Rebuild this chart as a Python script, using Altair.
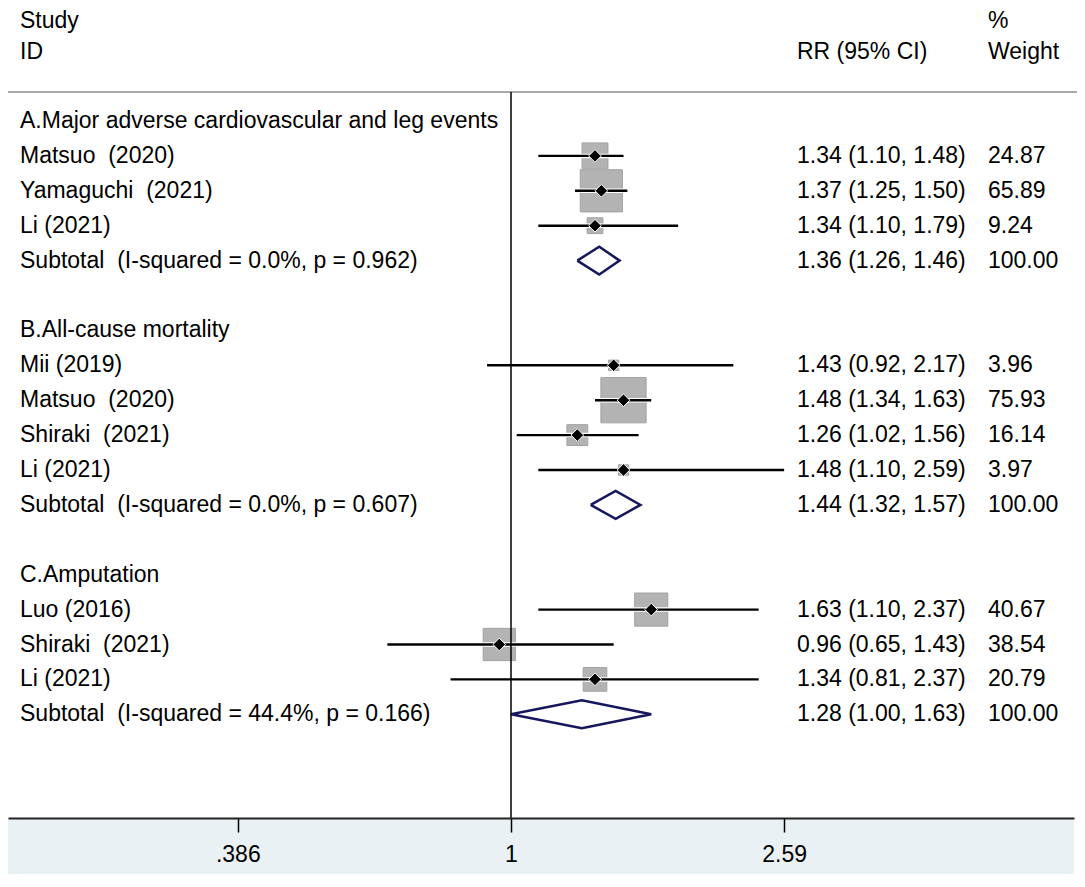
import math
import altair as alt
import pandas as pd

# ---------------- data ----------------
group_titles = [
    "A.Major adverse cardiovascular and leg events",
    "B.All-cause mortality",
    "C.Amputation",
]
study_names = [
    ["Matsuo\u00a0 (2020)", "Yamaguchi\u00a0 (2021)", "Li (2021)"],
    ["Mii (2019)", "Matsuo\u00a0 (2020)", "Shiraki\u00a0 (2021)", "Li (2021)"],
    ["Luo (2016)", "Shiraki\u00a0 (2021)", "Li (2021)"],
]
study_rr = [[1.34, 1.37, 1.34], [1.43, 1.48, 1.26, 1.48], [1.63, 0.96, 1.34]]
study_lo = [[1.10, 1.25, 1.10], [0.92, 1.34, 1.02, 1.10], [1.10, 0.65, 0.81]]
study_hi = [[1.48, 1.50, 1.79], [2.17, 1.63, 1.56, 2.59], [2.37, 1.43, 2.37]]
study_weight = [[24.87, 65.89, 9.24], [3.96, 75.93, 16.14, 3.97], [40.67, 38.54, 20.79]]
subtotal_i2 = ["0.0%", "0.0%", "44.4%"]
subtotal_p = ["0.962", "0.607", "0.166"]
subtotal_rr = [1.36, 1.44, 1.28]
subtotal_lo = [1.26, 1.32, 1.00]
subtotal_hi = [1.46, 1.57, 1.63]
subtotal_weight = [100.00, 100.00, 100.00]
header_line1 = ["Study", "", "%"]
header_line2 = ["ID", "RR (95% CI)", "Weight"]
tick_values = [0.386, 1, 2.59]
tick_labels = [".386", "1", "2.59"]

# ---------------- build tables ----------------
text_rows, study_rows, diamond_rows = [], [], []
r = 0
for g, title in enumerate(group_titles):
    text_rows.append({"row": r, "label": title, "rr_text": "", "w_text": ""})
    r += 1
    for name, rr, lo, hi, w in zip(study_names[g], study_rr[g], study_lo[g], study_hi[g], study_weight[g]):
        text_rows.append({"row": r, "label": name,
                          "rr_text": f"{rr:.2f} ({lo:.2f}, {hi:.2f})", "w_text": f"{w:.2f}"})
        study_rows.append({"row": r, "rr": rr, "lo": lo, "hi": hi, "weight": w})
        r += 1
    text_rows.append({"row": r,
                      "label": f"Subtotal\u00a0 (I-squared = {subtotal_i2[g]}, p = {subtotal_p[g]})",
                      "rr_text": f"{subtotal_rr[g]:.2f} ({subtotal_lo[g]:.2f}, {subtotal_hi[g]:.2f})",
                      "w_text": f"{subtotal_weight[g]:.2f}"})
    half = 0.4
    verts = [(subtotal_lo[g], r), (subtotal_rr[g], r - half), (subtotal_hi[g], r),
             (subtotal_rr[g], r + half), (subtotal_lo[g], r)]
    for k, (vx, vy) in enumerate(verts):
        diamond_rows.append({"grp": g, "ord": k, "rr": vx, "row": vy})
    r += 2

text_df = pd.DataFrame(text_rows)
study_df = pd.DataFrame(study_rows)
diamond_df = pd.DataFrame(diamond_rows)
hdr1_df = pd.DataFrame({"row": [-3] * 3, "label": header_line1, "col": [0, 1, 2]})
hdr2_df = pd.DataFrame({"row": [-2] * 3, "label": header_line2, "col": [0, 1, 2]})

# ---------------- layout ----------------
PAD_TOP = 8
W, H = 1066, 802
X_ONE = 503          # plot-x of RR = 1
PX_LN = 287          # pixels per natural-log unit
ROW0, ROW_STEP = 105, 34.9
SEP_Y = 76           # plot-y of the header separator line
COL_X = [12, 789, 980]
x_dom = [math.exp(-X_ONE / PX_LN), math.exp((W - X_ONE) / PX_LN)]
y_dom = [-ROW0 / ROW_STEP, (H - ROW0) / ROW_STEP]
FONT = "Liberation Sans, Arial, Helvetica, sans-serif"
FS = 23

label_expr = " : ".join(
    f"abs(datum.value - {v}) < 1e-6 ? '{l}'" for v, l in zip(tick_values, tick_labels)
) + " : ''"

x_axis = alt.Axis(values=tick_values, labelExpr=label_expr, title=None, grid=False,
                  domainColor="#222222", domainWidth=2, tickColor="#000000", tickWidth=1.5,
                  tickSize=14, labelFontSize=FS, labelFont=FONT, labelColor="#000000",
                  labelPadding=11, labelFlush=False, labelOverlap=False, zindex=1)
x_scale = alt.Scale(type="log", domain=x_dom, nice=False)
y_scale = alt.Scale(domain=y_dom, nice=False, zero=False, reverse=True)
Y = alt.Y("row:Q", scale=y_scale, axis=None)

one = pd.DataFrame({"a": [0]})

band = alt.Chart(one).mark_rect(color="#e9f1f4").encode(
    x=alt.value(0), x2=alt.value(W), y=alt.value(H), y2=alt.value(H + 56))

top_line = alt.Chart(one).mark_rule(color="#a8a8a8", strokeWidth=2).encode(
    x=alt.value(0), x2=alt.value(W + 3), y=alt.value(SEP_Y))

squares = alt.Chart(study_df).mark_point(shape="square", filled=True, fill="#b3b3b3",
                                         stroke="#a3a3a3", strokeWidth=1, opacity=1).encode(
    x=alt.X("rr:Q", scale=x_scale, axis=x_axis), y=Y,
    size=alt.Size("weight:Q", scale=alt.Scale(domain=[0, 100], range=[0, 2700]), legend=None))

ci_halo = alt.Chart(study_df).mark_rule(color="white", strokeWidth=4.5).encode(
    x=alt.X("lo:Q", scale=x_scale, axis=x_axis), x2="hi:Q", y=Y)
ci = alt.Chart(study_df).mark_rule(color="black", strokeWidth=2.4).encode(
    x=alt.X("lo:Q", scale=x_scale, axis=x_axis), x2="hi:Q", y=Y)

points = alt.Chart(study_df).mark_point(shape="diamond", filled=True, fill="black",
                                        stroke="white", strokeWidth=1, size=160, opacity=1).encode(
    x=alt.X("rr:Q", scale=x_scale, axis=x_axis), y=Y)

diamonds = alt.Chart(diamond_df).mark_line(color="#16165c", strokeWidth=2.5,
                                           strokeJoin="miter").encode(
    x=alt.X("rr:Q", scale=x_scale, axis=x_axis), y=Y,
    detail="grp:N", order="ord:Q")

null_line = alt.Chart(one).mark_rule(color="black", strokeWidth=1.5).encode(
    x=alt.X("v:Q", scale=x_scale, axis=x_axis),
    y=alt.value(SEP_Y), y2=alt.value(H)).transform_calculate(v="1")

def txt(df, field, xpix, dy=0):
    return alt.Chart(df).mark_text(align="left", baseline="middle", font=FONT,
                                   fontSize=FS, color="black", dy=dy).encode(
        x=alt.value(xpix), y=Y, text=f"{field}:N")

layers = [band, top_line, squares, ci_halo, ci, points, diamonds, null_line,
          txt(text_df, "label", COL_X[0]),
          txt(text_df, "rr_text", COL_X[1]),
          txt(text_df, "w_text", COL_X[2])]
for c in range(3):
    layers.append(txt(hdr1_df[hdr1_df.col == c], "label", COL_X[c], dy=5))
    layers.append(txt(hdr2_df[hdr2_df.col == c], "label", COL_X[c], dy=1))

chart = alt.layer(*layers).properties(
    width=W, height=H,
    autosize=alt.AutoSizeParams(type="none"),
    padding={"left": 0, "top": PAD_TOP, "right": 3, "bottom": 56},
    background="white",
).configure_view(stroke=None)

chart.save("out.html", embed_options={"renderer": "svg", "actions": False})
